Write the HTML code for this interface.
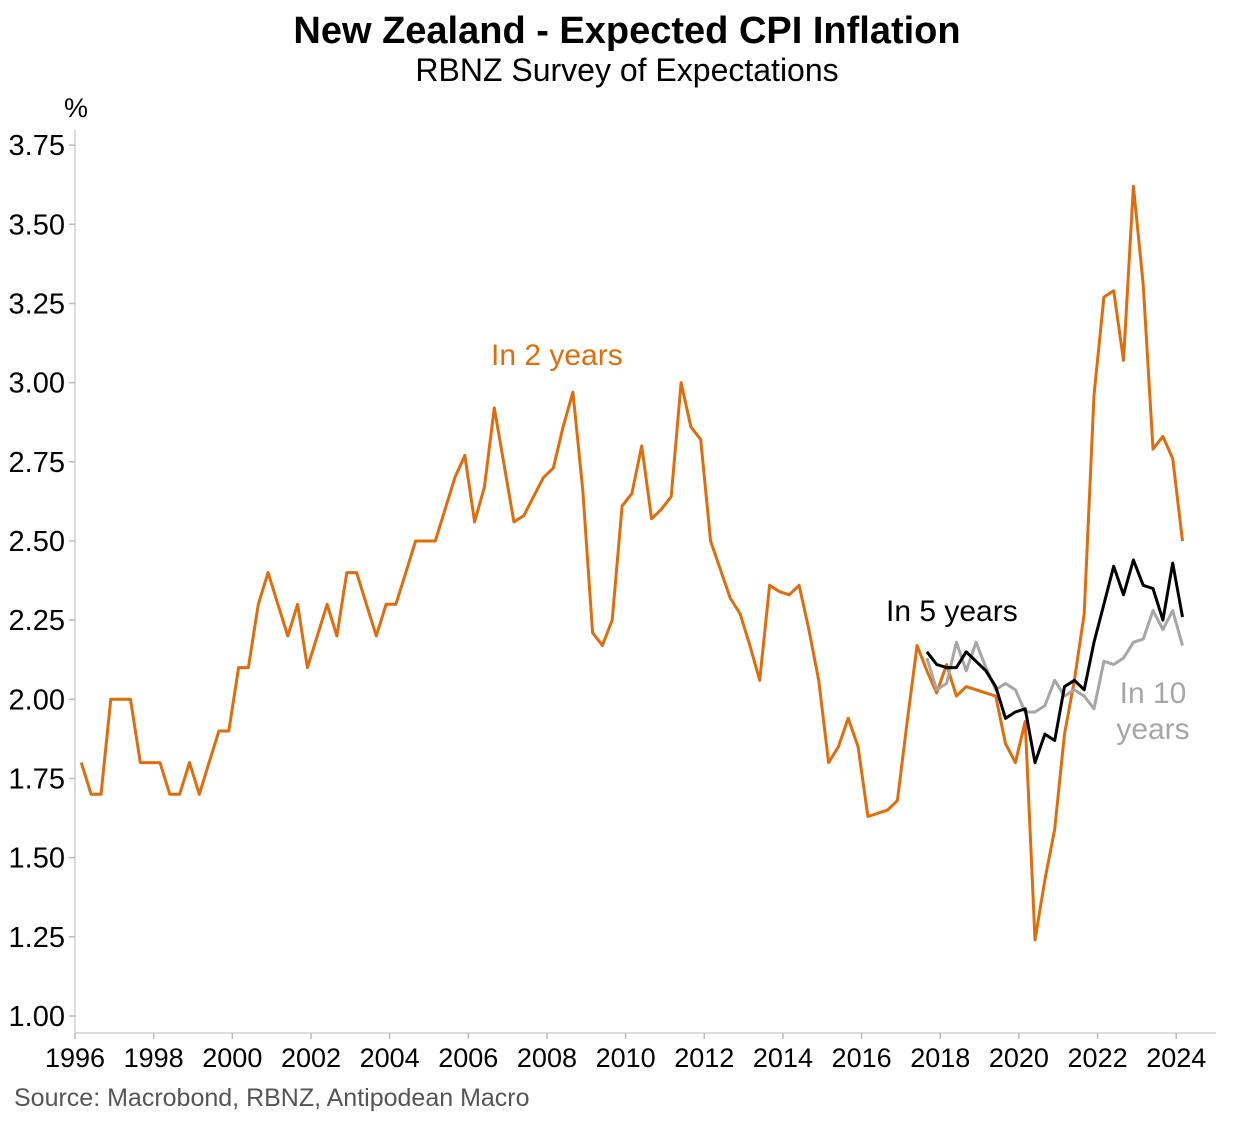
<!DOCTYPE html>
<html><head><meta charset="utf-8"><style>
body{margin:0;background:#fff;}
svg{display:block;font-family:"Liberation Sans",Arial,sans-serif;}
</style></head><body>
<svg id="chart" width="1253" height="1122" xmlns="http://www.w3.org/2000/svg">
<rect width="1253" height="1122" fill="#fff"/>
<text x="627" y="43" text-anchor="middle" font-size="38" font-weight="bold">New Zealand - Expected CPI Inflation</text>
<text x="627" y="81" text-anchor="middle" font-size="32">RBNZ Survey of Expectations</text>
<text x="64" y="117" font-size="27">%</text>
<text x="14" y="1106" font-size="25" fill="#555">Source: Macrobond, RBNZ, Antipodean Macro</text>
<g id="axes"></g>
<g id="series"></g>
<text x="491" y="365" font-size="30" fill="#E36C0A">In 2 years</text>
<text x="886" y="621" font-size="30" fill="#000">In 5 years</text>
<text x="1153" y="703" text-anchor="middle" font-size="30" fill="#A6A6A6">In 10</text>
<text x="1153" y="739" text-anchor="middle" font-size="30" fill="#A6A6A6">years</text>
</svg>
<script>
const yTicks=[1.00,1.25,1.50,1.75,2.00,2.25,2.50,2.75,3.00,3.25,3.50,3.75];
const xTicks=[1996,1998,2000,2002,2004,2006,2008,2010,2012,2014,2016,2018,2020,2022,2024];
const startYear=1996.16;
const twoYear=[1.80,1.70,1.70,2.00,2.00,2.00,1.80,1.80,1.80,1.70,1.70,1.80,1.70,1.80,1.90,1.90,2.10,2.10,2.30,2.40,
2.30,2.20,2.30,2.10,2.20,2.30,2.20,2.40,2.40,2.30,2.20,2.30,2.30,2.40,2.50,2.50,2.50,2.60,2.70,2.77,2.56,
2.67,2.92,2.74,2.56,2.58,2.64,2.70,2.73,2.86,2.97,2.66,2.21,2.17,2.25,2.61,2.65,2.80,2.57,2.60,2.64,
3.00,2.86,2.82,2.50,2.41,2.32,2.27,2.17,2.06,2.36,2.34,2.33,2.36,2.22,2.06,1.80,1.85,1.94,1.85,1.63,
1.64,1.65,1.68,1.93,2.17,2.09,2.02,2.11,2.01,2.04,2.03,2.02,2.01,1.86,1.80,1.93,1.24,1.43,1.59,1.89,
2.06,2.27,2.96,3.27,3.29,3.07,3.62,3.31,2.79,2.83,2.76,2.50];
const fiveStart=86;
const fiveYear=[2.15,2.11,2.10,2.10,2.15,2.12,2.09,2.04,1.94,1.96,1.97,1.80,1.89,1.87,2.04,2.06,2.03,2.18,2.30,2.42,2.33,2.44,2.36,2.35,2.25,2.43,2.26];
const tenYear=[2.13,2.03,2.05,2.18,2.09,2.18,2.10,2.03,2.05,2.03,1.96,1.96,1.98,2.06,2.01,2.03,2.01,1.97,2.12,2.11,2.13,2.18,2.19,2.28,2.22,2.28,2.17];
const NS="http://www.w3.org/2000/svg";
const xs=t=>75+(t-1996)*39.33;
const ys=v=>1016-(v-1)*316.7;
const axes=document.getElementById('axes'),series=document.getElementById('series');
function mk(tag,attrs,parent){const e=document.createElementNS(NS,tag);for(const k in attrs)e.setAttribute(k,attrs[k]);parent.appendChild(e);return e;}
const ya=mk('line',{x1:75,y1:130,x2:75,y2:1033,stroke:'#d0d0d0','stroke-width':1.5},axes);


const xa=mk('line',{x1:75,y1:1033,x2:1216,y2:1033,stroke:'#d0d0d0','stroke-width':1.5},axes);


yTicks.forEach(v=>{
 const t=mk('line',{x1:69,x2:75,y1:ys(v),y2:ys(v),stroke:'#bbb','stroke-width':1.5},axes);
 
 
 const l=mk('text',{x:65,y:ys(v)+10,'text-anchor':'end','font-size':29},axes);
 l.textContent=v.toFixed(2);
 
 
});
xTicks.forEach(y=>{
 const t=mk('line',{x1:xs(y),x2:xs(y),y1:1033,y2:1039,stroke:'#bbb','stroke-width':1.5},axes);
 
 
 const l=mk('text',{x:xs(y),y:1067,'text-anchor':'middle','font-size':27},axes);
 l.textContent=y;
 
 
});
function line(vals,start,color,name){
 const pts=vals.map((v,i)=>xs(startYear+(start+i)*0.25).toFixed(1)+','+ys(v).toFixed(1)).join(' ');
 const p=mk('polyline',{points:pts,fill:'none',stroke:color,'stroke-width':3,'stroke-linejoin':'round'},series);
 
 
}
line(twoYear,0,'#E36C0A','line-2-years');
line(tenYear,fiveStart,'#A6A6A6','line-10-years');
line(fiveYear,fiveStart,'#000000','line-5-years');
</script>
</body></html>
